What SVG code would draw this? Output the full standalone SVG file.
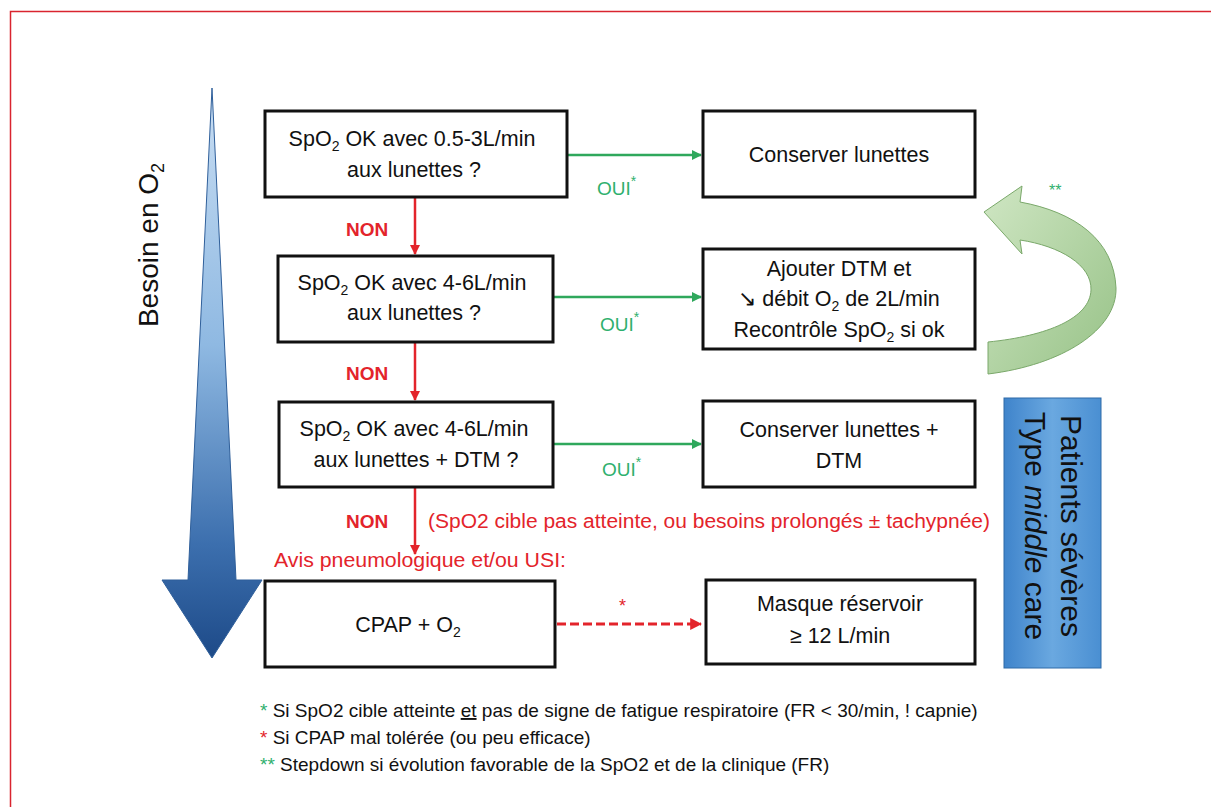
<svg xmlns="http://www.w3.org/2000/svg" width="1211" height="807" viewBox="0 0 1211 807">
<defs>
<style>
.t{font-family:"Liberation Sans",Arial,sans-serif;fill:#111;}
.bx{font-size:21.5px;text-anchor:middle;}
.box{fill:#fff;stroke:#111;stroke-width:3;}
.red{fill:#e3242b;}
.grn{fill:#2fb06e;}
.gl{stroke:#2fa85c;stroke-width:2.5;fill:none;}
.rl{stroke:#e3242b;stroke-width:2.5;fill:none;}
.foot{font-size:19px;}
</style>
<marker id="ag" viewBox="0 0 10 10" refX="9" refY="5" markerWidth="4" markerHeight="4" orient="auto"><path d="M0,0 L10,5 L0,10 z" fill="#2fa85c"/></marker>
<marker id="ar" viewBox="0 0 10 10" refX="9" refY="5" markerWidth="4" markerHeight="4" orient="auto"><path d="M0,0 L10,5 L0,10 z" fill="#e3242b"/></marker>
<linearGradient id="blueArrow" x1="0" y1="0" x2="0" y2="1">
<stop offset="0" stop-color="#c9def3"/>
<stop offset="0.45" stop-color="#8fb9e2"/>
<stop offset="0.8" stop-color="#3c6fae"/>
<stop offset="1" stop-color="#1d4a88"/>
</linearGradient>
<linearGradient id="sideBlue" x1="0" y1="0" x2="1" y2="0">
<stop offset="0" stop-color="#3f84cb"/>
<stop offset="0.5" stop-color="#6aa8e0"/>
<stop offset="1" stop-color="#4a8fd2"/>
</linearGradient>
<linearGradient id="greenArrow" x1="0" y1="0" x2="1" y2="1">
<stop offset="0" stop-color="#cfe6c3"/>
<stop offset="1" stop-color="#97c287"/>
</linearGradient>
</defs>

<rect x="0" y="0" width="1211" height="807" fill="#fff"/>
<rect x="10.5" y="11.5" width="1215" height="810" fill="none" stroke="#d9242f" stroke-width="1.5"/>

<g id="axis">
<polygon points="212,88 236,580 262,580 212,658 162,580 188,580" fill="url(#blueArrow)" stroke="#2f5f9a" stroke-width="1"/>
<text class="t" font-size="28" text-anchor="middle" transform="translate(158,245) rotate(-90)">Besoin en O<tspan font-size="18" dy="6">2</tspan></text>
</g>

<g id="connectors">
<line class="gl" x1="567" y1="155" x2="701" y2="155" marker-end="url(#ag)"/>
<line class="gl" x1="553" y1="297" x2="701" y2="297" marker-end="url(#ag)"/>
<line class="gl" x1="553" y1="444" x2="701" y2="444" marker-end="url(#ag)"/>
<line class="rl" x1="415" y1="197" x2="415" y2="254" marker-end="url(#ar)"/>
<line class="rl" x1="415" y1="342" x2="415" y2="400" marker-end="url(#ar)"/>
<line class="rl" x1="415" y1="487" x2="415" y2="554" marker-end="url(#ar)"/>
<line x1="557" y1="624" x2="701" y2="624" stroke="#e3242b" stroke-width="3" stroke-dasharray="9,4" marker-end="url(#ar)"/>
<text class="t grn" font-size="19" x="597" y="195">OUI<tspan font-size="14" dy="-9">*</tspan></text>
<text class="t grn" font-size="19" x="600" y="331">OUI<tspan font-size="14" dy="-9">*</tspan></text>
<text class="t grn" font-size="19" x="602" y="476">OUI<tspan font-size="14" dy="-9">*</tspan></text>
<text class="t red" font-size="19" font-weight="bold" x="346" y="236">NON</text>
<text class="t red" font-size="19" font-weight="bold" x="346" y="380">NON</text>
<text class="t red" font-size="19" font-weight="bold" x="346" y="528">NON</text>
<text class="t red" font-size="20" x="428" y="528" textLength="562" lengthAdjust="spacingAndGlyphs">(SpO2 cible pas atteinte, ou besoins prolongés ± tachypnée)</text>
<text class="t red" font-size="18" x="619" y="612">*</text>
</g>

<g id="n1">
<rect class="box" x="265" y="111" width="302" height="86"/>
<text class="t bx" x="412" y="146">SpO<tspan font-size="14" dy="5">2</tspan><tspan dy="-5"> OK avec 0.5-3L/min</tspan></text>
<text class="t bx" x="414" y="177">aux lunettes ?</text>
</g>
<g id="n2">
<rect class="box" x="703" y="111" width="272" height="86"/>
<text class="t bx" x="839" y="162">Conserver lunettes</text>
</g>
<g id="n3">
<rect class="box" x="278" y="256" width="275" height="86"/>
<text class="t bx" x="412" y="290">SpO<tspan font-size="14" dy="5">2</tspan><tspan dy="-5"> OK avec 4-6L/min</tspan></text>
<text class="t bx" x="414" y="320">aux lunettes ?</text>
</g>
<g id="n4">
<rect class="box" x="703" y="249" width="272" height="100"/>
<text class="t bx" x="839" y="276">Ajouter DTM et</text>
<text class="t bx" x="839" y="306">↘ débit O<tspan font-size="14" dy="5">2</tspan><tspan dy="-5"> de 2L/min</tspan></text>
<text class="t bx" x="839" y="337">Recontrôle SpO<tspan font-size="14" dy="5">2</tspan><tspan dy="-5"> si ok</tspan></text>
</g>
<g id="n5">
<rect class="box" x="279" y="402" width="274" height="85"/>
<text class="t bx" x="414" y="436">SpO<tspan font-size="14" dy="5">2</tspan><tspan dy="-5"> OK avec 4-6L/min</tspan></text>
<text class="t bx" x="416" y="467">aux lunettes + DTM ?</text>
</g>
<g id="n6">
<rect class="box" x="703" y="401" width="272" height="86"/>
<text class="t bx" x="839" y="437">Conserver lunettes +</text>
<text class="t bx" x="839" y="468">DTM</text>
</g>
<g id="n7">
<text class="t red" font-size="20" x="274" y="567" textLength="292" lengthAdjust="spacingAndGlyphs">Avis pneumologique et/ou USI:</text>
</g>
<g id="n8">
<rect class="box" x="265" y="581" width="290" height="86"/>
<text class="t bx" x="408" y="632">CPAP + O<tspan font-size="14" dy="5">2</tspan></text>
</g>
<g id="n9">
<rect class="box" x="706" y="580" width="269" height="84"/>
<text class="t bx" x="840" y="611">Masque réservoir</text>
<text class="t bx" x="840" y="643">≥ 12 L/min</text>
</g>

<g id="side">
<rect x="1004" y="398" width="97" height="270" fill="url(#sideBlue)" stroke="#2e6aa8" stroke-width="1"/>
<text class="t" font-size="30" text-anchor="middle" fill="#1a1a2a" transform="translate(1061,526) rotate(90)">Patients sévères</text>
<text class="t" font-size="30" text-anchor="middle" fill="#1a1a2a" transform="translate(1025,526) rotate(90)">Type <tspan font-style="italic">middle</tspan> care</text>
</g>

<g id="stepdown">
<path d="M984,212 L1022,186 L1020,202 C1075,212 1114,240 1116,288 C1117,330 1062,365 988,374 L988,342 C1048,336 1090,318 1091,290 C1092,265 1060,246 1020,240 L1022,254 Z" fill="url(#greenArrow)" stroke="#7aa86a" stroke-width="1"/>
<text class="t grn" font-size="16" x="1049" y="196">**</text>
</g>

<g id="legend">
<text class="t foot" x="260" y="717"><tspan class="grn">*</tspan> Si SpO2 cible atteinte <tspan text-decoration="underline">et</tspan> pas de signe de fatigue respiratoire (FR &lt; 30/min,  ! capnie)</text>
<text class="t foot" x="260" y="744"><tspan class="red">*</tspan> Si CPAP mal tolérée (ou peu efficace)</text>
<text class="t foot" x="260" y="771"><tspan class="grn">**</tspan> Stepdown si évolution favorable de la SpO2 et de la clinique (FR)</text>
</g>
</svg>
